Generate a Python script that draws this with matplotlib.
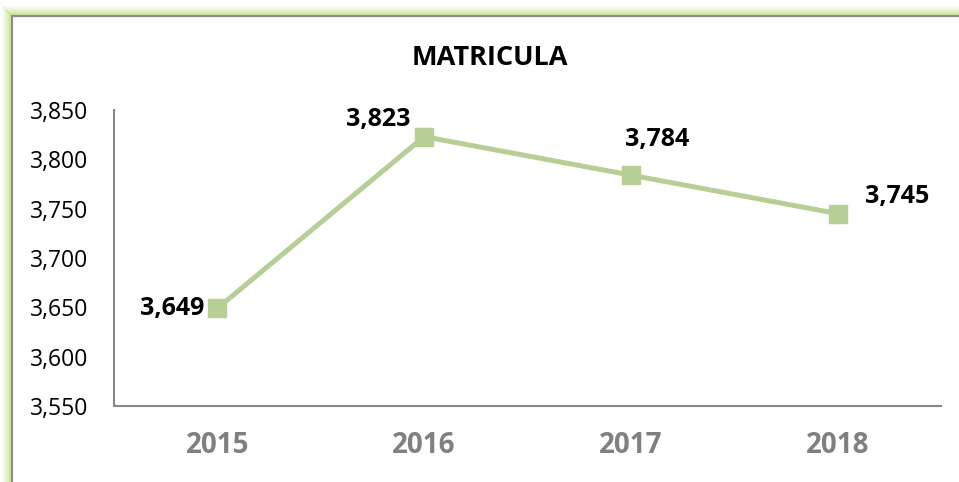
import matplotlib
matplotlib.use("Agg")
import matplotlib.pyplot as plt
from matplotlib.lines import Line2D
from matplotlib.ticker import FuncFormatter

years = ["2015", "2016", "2017", "2018"]
matricula = [3649, 3823, 3784, 3745]
# label offsets in pixels (dx, dy) and horizontal alignment
label_pos = [(-13, 0, "right"), (-14, 17, "right"), (-6, 36, "left"), (27, 17, "left")]

GREEN = "#B7CE95"
GRAY = "#878787"
W, H = 959, 482

plt.rcParams["font.family"] = ["Open Sans", "DejaVu Sans"]

fig = plt.figure(figsize=(W / 100, H / 100), dpi=100)
fig.patch.set_facecolor("white")

# outer frame with green glow (left and top edges only visible)
fx, fy = 11.5, 15.5
for i, a in enumerate([0.9, 0.7, 0.5, 0.32, 0.18, 0.08]):
    off = 1.5 + i * 1.4
    fig.add_artist(Line2D([(fx - off) / W] * 2, [0, 1 - (fy - off) / H],
                          color="#CFE89A", alpha=a, lw=1.6))
    fig.add_artist(Line2D([(fx - off) / W, 1], [1 - (fy - off) / H] * 2,
                          color="#CFE89A", alpha=a, lw=1.6))
fig.add_artist(Line2D([fx / W] * 2, [0, 1 - fy / H], color="#8c8c8c", lw=1.6))
fig.add_artist(Line2D([fx / W, 1], [1 - fy / H] * 2, color="#8c8c8c", lw=1.6))

ax = fig.add_axes([114 / W, 1 - 406 / H, (941 - 114) / W, (406 - 110) / H])
x = list(range(len(years)))
ax.plot(x, matricula, color=GREEN, lw=3.6, marker="s", markersize=13,
        markerfacecolor=GREEN, markeredgecolor=GREEN, zorder=3)

ax.set_xlim(-0.5, len(years) - 0.5)
ax.set_ylim(3550, 3850)
ax.set_yticks(range(3550, 3851, 50))
ax.yaxis.set_major_formatter(FuncFormatter(lambda v, p: f"{int(v):,}"))
ax.set_xticks(x)
ax.set_xticklabels(years, fontsize=20, fontweight="bold", color="#808080")
ax.tick_params(axis="y", length=0, pad=18.5, labelsize=16.5, labelcolor="black")
ax.tick_params(axis="x", length=0, pad=18)

for s in ["top", "right"]:
    ax.spines[s].set_visible(False)
for s in ["left", "bottom"]:
    ax.spines[s].set_color(GRAY)
    ax.spines[s].set_linewidth(1.5)

for xi, v, (dx, dy, ha) in zip(x, matricula, label_pos):
    ax.annotate(f"{v:,}", (xi, v), xytext=(dx, dy), textcoords="offset pixels",
                ha=ha, va="center", fontsize=18, fontweight="bold", color="black")

fig.text(490 / W, 1 - 58 / H, "MATRICULA", ha="center", va="center",
         fontsize=19.5, fontweight="bold", color="black")

fig.savefig("out.png", dpi=100)
